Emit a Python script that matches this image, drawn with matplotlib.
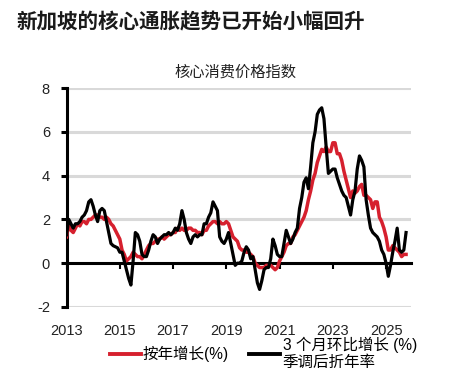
import numpy as np
import matplotlib
matplotlib.use("Agg")
import matplotlib.pyplot as plt
from matplotlib.lines import Line2D

plt.rcParams['font.family'] = ['Liberation Sans', 'Noto Sans CJK SC', 'DejaVu Sans']

# Monthly values, Jan 2013 - Oct 2025
yoy = [
    1.2, 1.8, 1.5, 1.4, 1.6, 1.8, 1.7, 1.9, 1.9, 1.8, 2.0, 2.0,   # 2013
    2.1, 2.2, 2.2, 2.1, 2.1, 2.0, 2.1, 2.0, 1.8, 1.7, 1.5, 1.3,   # 2014
    1.1, 0.6, 0.4, 0.1, 0.2, 0.3, 0.5, 0.4, 0.3, 0.3, 0.2, 0.4,   # 2015
    0.6, 0.8, 0.9, 0.9, 1.0, 1.1, 1.1, 1.2, 1.1, 1.2, 1.3, 1.3,   # 2016
    1.4, 1.4, 1.6, 1.5, 1.6, 1.5, 1.5, 1.6, 1.6, 1.5, 1.5, 1.4,   # 2017
    1.4, 1.3, 1.5, 1.5, 1.7, 1.8, 1.9, 1.9, 1.8, 1.9, 1.8, 1.8,   # 2018
    1.9, 1.8, 1.5, 1.2, 1.1, 1.0, 0.7, 0.6, 0.6, 0.5, 0.5, 0.4,   # 2019
    0.3, 0.0, -0.1, -0.2, -0.2, -0.2, -0.1, -0.1, -0.1, -0.2, -0.3, -0.2,  # 2020
    0.1, 0.3, 0.5, 0.8, 0.9, 0.9, 1.2, 1.3, 1.5, 1.7, 1.9, 2.1,   # 2021
    2.4, 2.9, 3.3, 3.8, 4.1, 4.6, 4.9, 5.2, 5.1, 5.3, 5.1, 5.1,   # 2022
    5.5, 5.5, 5.0, 5.0, 4.7, 4.2, 3.8, 3.4, 3.0, 3.3, 3.2, 3.3,   # 2023
    3.5, 3.6, 3.1, 3.1, 3.0, 2.9, 2.5, 2.8, 2.8, 2.1, 1.9, 1.6,   # 2024
    1.2, 0.6, 0.6, 0.8, 0.7, 0.6, 0.5, 0.3, 0.4, 0.4,             # 2025
]
saar = [
    1.3, 2.0, 1.8, 1.6, 1.8, 1.8, 1.9, 2.1, 2.2, 2.4, 2.8, 2.9,   # 2013
    2.6, 2.2, 1.9, 2.4, 2.5, 2.4, 1.9, 1.4, 0.9, 0.8, 0.75, 0.7,  # 2014
    0.5, 0.5, 0.1, -0.3, -0.7, -1.0, 0.1, 1.4, 1.3, 1.0, 0.4, 0.3,  # 2015
    0.3, 0.6, 1.0, 1.3, 1.2, 0.9, 1.1, 1.2, 1.3, 1.3, 1.4, 1.3,   # 2016
    1.4, 1.6, 1.5, 1.8, 2.4, 2.0, 1.4, 1.1, 0.9, 1.2, 1.3, 1.2,   # 2017
    1.3, 1.3, 1.8, 1.8, 2.1, 2.3, 2.8, 2.6, 2.4, 1.2, 1.0, 0.9,   # 2018
    1.1, 1.4, 0.9, 0.4, -0.1, 0.0, 0.0, 0.1, 0.5, 0.75, 0.6, 0.2,  # 2019
    0.3, -0.3, -0.9, -1.2, -0.8, -0.3, -0.2, -0.2, 0.2, 1.1, 0.8, 0.4,  # 2020
    0.3, 0.3, 0.9, 1.5, 1.2, 0.9, 1.1, 1.4, 1.6, 2.5, 3.0, 3.7,   # 2021
    3.9, 3.4, 4.4, 5.5, 6.0, 6.8, 7.0, 7.1, 6.6, 5.3, 4.1, 4.2,   # 2022
    4.3, 4.3, 3.9, 3.6, 3.3, 3.1, 3.0, 2.6, 2.2, 2.9, 3.3, 4.3,   # 2023
    4.9, 4.7, 4.4, 2.9, 2.2, 1.6, 1.4, 1.3, 1.2, 1.0, 0.6, 0.4,   # 2024
    0.0, -0.6, -0.1, 0.5, 1.0, 1.6, 0.6, 0.5, 0.6, 1.4,           # 2025
]
start_year = 2013
year_ticks = [2013, 2015, 2017, 2019, 2021, 2023, 2025]
y_ticks = [-2, 0, 2, 4, 6, 8]

title = "新加坡的核心通胀趋势已开始小幅回升"
subtitle = "核心消费价格指数"
label_yoy = "按年增长(%)"
label_saar = "3 个月环比增长 (%)\n季调后折年率"

red = "#d6202e"
grid_grey = "#d9d9d9"

x = start_year + np.arange(len(yoy)) / 12.0

fig = plt.figure(figsize=(4.72, 3.78), dpi=100)
ax = fig.add_axes([0.141, 0.188, 0.73, 0.579])

# light grey gridlines (zero line is the axis itself)
for v in y_ticks:
    if v != 0:
        ax.axhline(v, color=grid_grey, lw=2.2, zorder=0)

ax.plot(x, yoy, color=red, lw=2.5, zorder=3)
ax.plot(x, saar, color="black", lw=2.3, zorder=4)

ax.set_xlim(2013, 2025.94)
ax.set_ylim(-2, 8)
ax.set_yticks(y_ticks)
ax.set_yticklabels([str(v) for v in y_ticks], fontsize=10.5, color="#222222")
ax.tick_params(axis='y', length=4, width=2.2, direction='out', pad=8)

# x axis line at zero, tick labels at the bottom
ax.spines['bottom'].set_position(('data', 0))
ax.spines['bottom'].set_linewidth(2.2)
ax.set_xticks(year_ticks)
ax.tick_params(axis='x', length=4, width=1.5, direction='out', labelbottom=False)
sec = ax.secondary_xaxis('bottom')
sec.set_xticks(year_ticks)
sec.set_xticklabels([str(y) for y in year_ticks], fontsize=10.5, color="#222222")
sec.tick_params(length=0, pad=12)
sec.spines['bottom'].set_visible(False)

ax.spines['left'].set_linewidth(2.2)
ax.spines['top'].set_visible(False)
ax.spines['right'].set_visible(False)

fig.text(0.036, 0.942, title, fontsize=14.8, fontweight='bold', ha='left', va='center',
         color="#1a1a1a")
fig.text(0.498, 0.808, subtitle, fontsize=11, ha='center', va='center', color="#222222")

handles = [Line2D([], [], color=red, lw=2.8), Line2D([], [], color="black", lw=2.8)]
fig.legend(handles, [label_yoy, label_saar], loc='upper left',
           bbox_to_anchor=(0.232, 0.11), ncol=2, frameon=False, fontsize=11.2,
           handlelength=2.0, handletextpad=0.15, columnspacing=1.3,
           borderpad=0, borderaxespad=0, labelspacing=0.1)

fig.savefig("out.png", dpi=100)
